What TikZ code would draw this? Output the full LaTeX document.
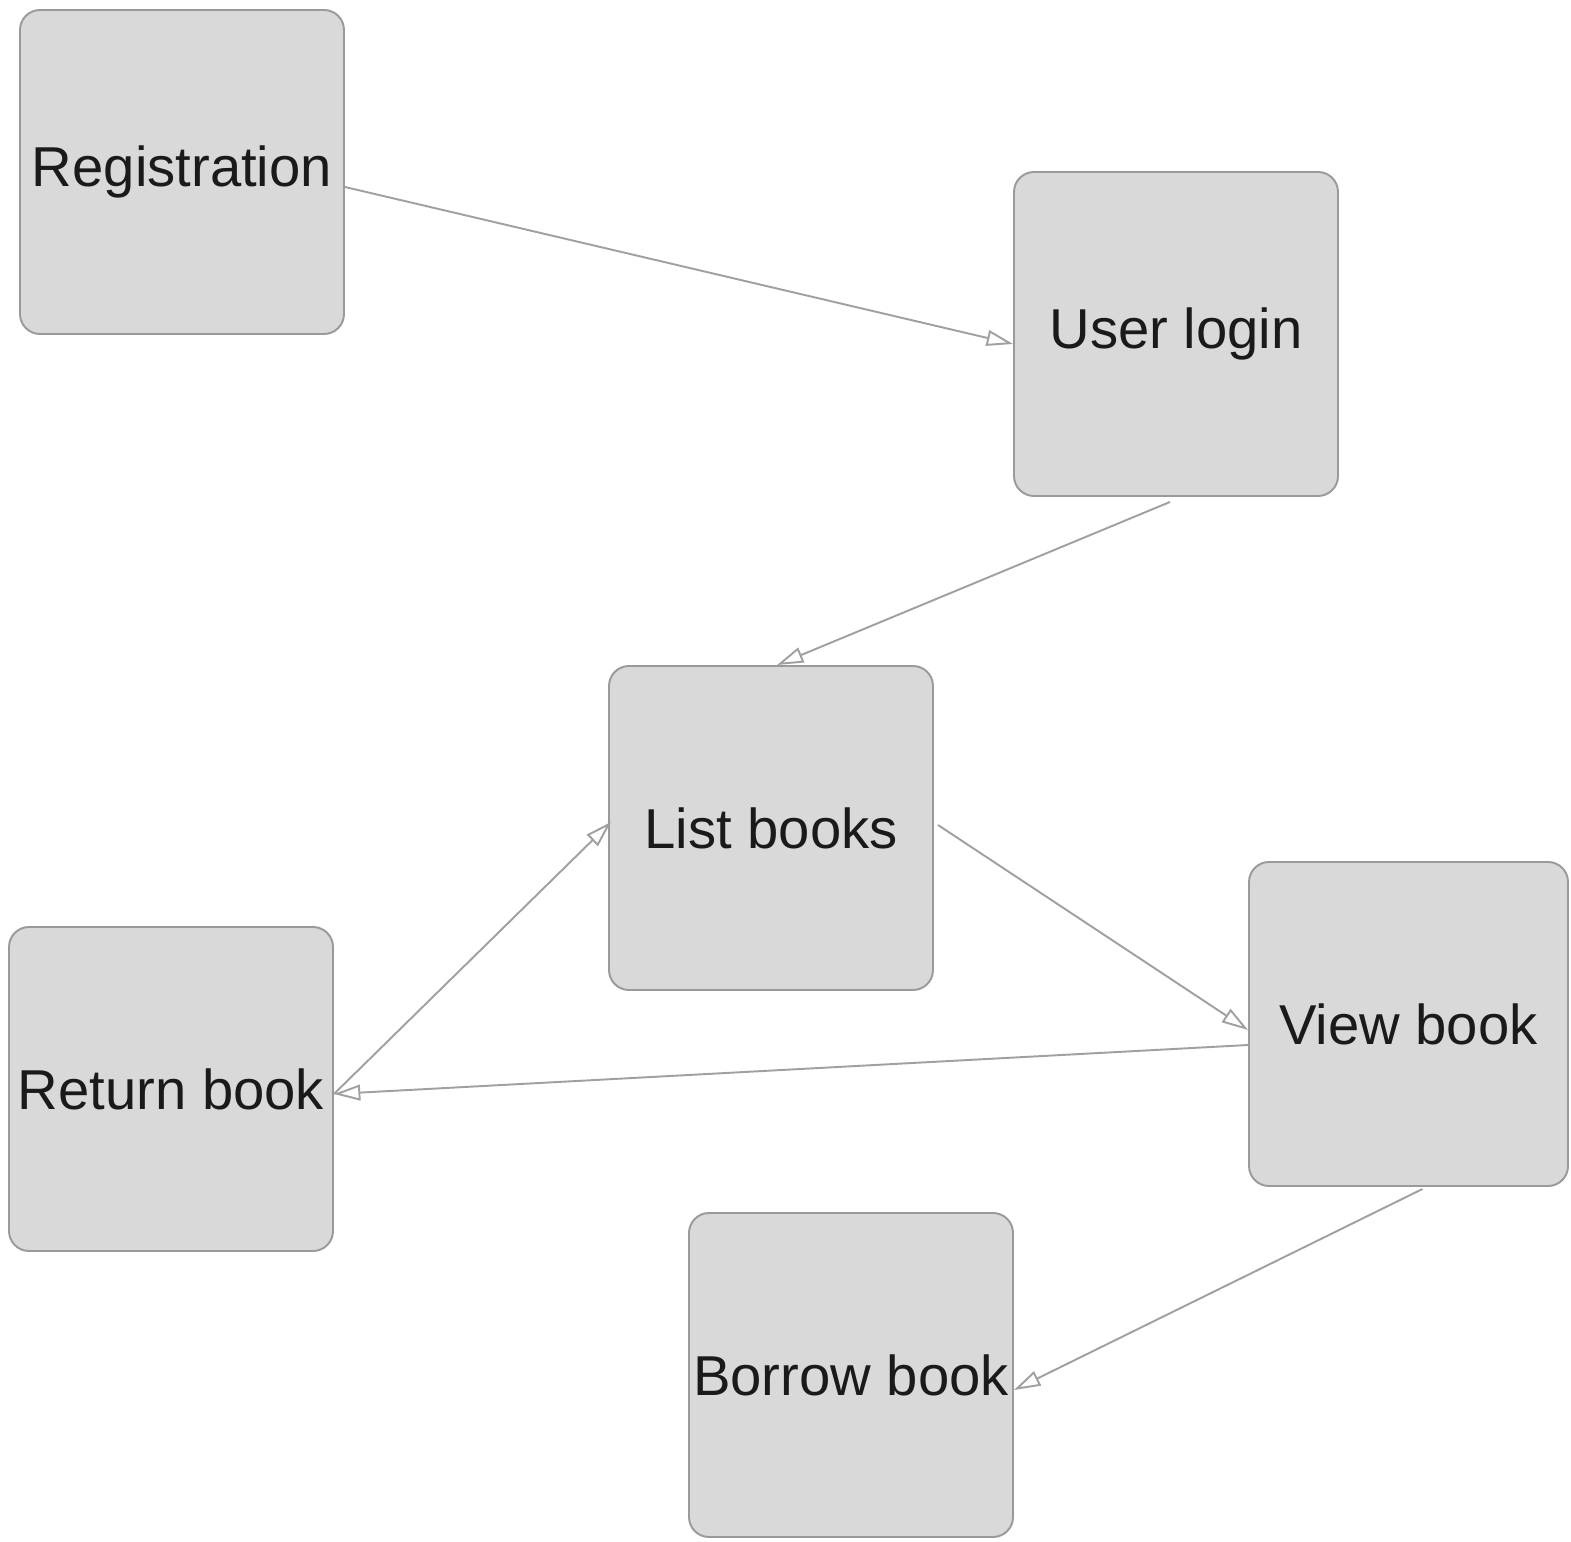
\documentclass[tikz,border=0pt]{standalone}
\usepackage{fontspec}
\setmainfont{Liberation Sans}
\usepackage{tikz}
\usetikzlibrary{arrows.meta}

\definecolor{boxfill}{HTML}{D9D9D9}
\definecolor{boxline}{HTML}{9A9A9A}
\definecolor{linkline}{HTML}{A0A0A0}
\definecolor{boxtext}{HTML}{1A1A1A}

\begin{document}
\begin{tikzpicture}[
            > = {Triangle[open, length=7.5pt, width=4.5pt]}, % arrow head style
            shorten > = 0pt,
            line width = 0.55pt, % line style
            font = \fontsize{16}{19}\selectfont
        ]

        \tikzstyle{box}=[
            draw = boxline,
            fill = boxfill,
            text = boxtext,
            rounded corners = 2mm,
            inner sep = 0pt,
            minimum width = 3.24cm,
            minimum height = 3.24cm
        ]
        \tikzstyle{link}=[
            draw = linkline,
            ->
        ]

        \useasboundingbox (0,0) rectangle (15.71,15.41);

        \node[box] (reg) at (1.82, 13.69) {Registration};
        \node[box] (login) at (11.76, 12.07) {User login};
        \node[box] (list) at (7.71, 7.13) {List books};
        \node[box] (ret) at (1.71, 4.52) {Return book};
        \node[box, minimum width = 3.19cm] (view) at (14.085, 5.17) {View book};
        \node[box] (borrow) at (8.51, 1.66) {Borrow book};

        \draw[link] ([yshift=-1.5mm]reg.east) -- ([yshift=-1mm]login.west);
        \draw[link] ([xshift=-0.6mm, yshift=-0.5mm]login.south) -- ([xshift=0.6mm]list.north);
        \draw[link] ([xshift=0.4mm, yshift=0.3mm]list.east) -- ([yshift=-0.6mm]view.west);
        \draw[link] ([yshift=-2.1mm]view.west) -- ([yshift=-0.5mm]ret.east);
        \draw[link] ([yshift=-0.5mm]ret.east) -- ([xshift=0.3mm, yshift=0.6mm]list.west);
        \draw[link] ([xshift=1.4mm, yshift=-0.2mm]view.south) -- ([yshift=-1.5mm]borrow.east);

    \end{tikzpicture}
\end{document}
